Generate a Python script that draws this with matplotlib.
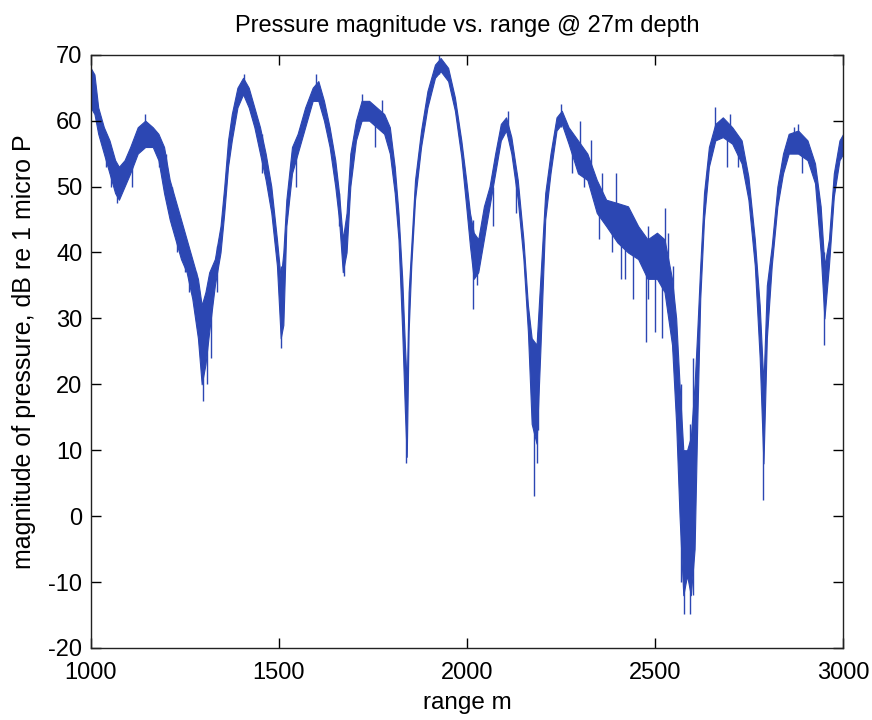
#!/usr/bin/env python3
"""Pressure magnitude vs. range, recreated from a MATLAB figure"""

import matplotlib
matplotlib.use("Agg")
import matplotlib.pyplot as plt

plt.rcParams['font.family'] = ['Liberation Sans', 'DejaVu Sans']
plt.rcParams['axes.unicode_minus'] = False

# Envelope of the noisy trace: range (m), low / high level (dB)
range_m = [1000, 1010, 1020, 1035, 1050, 1065, 1075, 1090, 1105, 1125, 1145, 1165,
           1180, 1195, 1210, 1225, 1240, 1255, 1270, 1285, 1295, 1305, 1315, 1330,
           1345, 1355, 1365, 1375, 1390, 1405, 1420, 1435, 1450, 1465, 1480, 1495,
           1505, 1512, 1520, 1535, 1550, 1570, 1590, 1605, 1620, 1635, 1650, 1660,
           1670, 1680, 1690, 1705, 1720, 1740, 1760, 1780, 1795, 1808, 1818, 1828,
           1835, 1840, 1845, 1852, 1862, 1878, 1895, 1915, 1930, 1950, 1968, 1985,
           1998, 2008, 2018, 2030, 2045, 2060, 2075, 2090, 2104, 2118, 2135, 2150,
           2162, 2172, 2185, 2195, 2208, 2222, 2238, 2252, 2270, 2295, 2320, 2345,
           2370, 2400, 2428, 2455, 2480, 2505, 2525, 2545, 2556, 2565, 2575, 2585,
           2595, 2605, 2612, 2620, 2630, 2643, 2660, 2680, 2705, 2730, 2748, 2765,
           2778, 2788, 2797, 2810, 2825, 2840, 2855, 2880, 2905, 2925, 2940, 2950,
           2962, 2975, 2990, 3000]
level_lo = [62, 61, 58, 55, 52, 49, 48, 50, 52, 55, 56, 56,
            54, 49, 45, 42, 39, 37, 33, 27, 20, 23, 28, 35,
            40, 46, 53, 57, 62, 64, 62, 59, 55, 51, 46, 38,
            27, 29, 44, 52, 55, 59, 63, 63, 60, 56, 50, 45,
            37, 40, 50, 57, 60, 60, 59, 58, 55, 49, 42, 28,
            16, 9, 28, 38, 48, 56, 62, 66.5, 67.5, 66, 61.5, 54.5,
            47, 41, 36, 37, 42, 47, 52, 57, 58.5, 55, 48, 39,
            28, 14, 11, 25, 45, 52, 58.5, 59.5, 56.5, 52, 51, 46,
            44, 41.5, 40, 39, 36, 36, 34, 26, 14, 0, -12, -9,
            -12, -5, 14, 33, 45, 53, 57, 57.5, 56.5, 53.5, 48, 38,
            24, 8, 27, 38, 47, 52, 55, 55, 54, 50.5, 40, 30,
            38, 48.5, 54, 55]
level_hi = [68, 67, 62, 59, 57, 54, 53, 54, 56, 59, 60, 59,
            58, 56, 51, 48, 45, 42, 39, 36, 32, 34, 37, 39,
            44, 50, 57, 61, 65, 66.5, 65, 62, 59, 55, 50, 42,
            36, 40, 48, 56, 58, 62, 65, 66, 63, 59, 54, 49,
            42, 46, 55, 60, 63, 63, 62, 61, 59, 53, 46, 36,
            26, 20, 34, 41, 51, 58.5, 64.5, 68.5, 69.5, 68, 63.5, 57,
            51, 46, 43, 42, 47, 50, 55, 59.5, 60.5, 57.5, 51, 42,
            32, 27, 26, 36, 49, 55, 60.5, 61.5, 59, 57, 55, 51,
            48, 47.5, 47, 44, 42, 43, 42, 36, 30, 20, 10, 10,
            12, 20, 28, 38, 49, 56, 59.5, 60.5, 59, 57, 51.5, 42,
            32, 20, 35, 41, 50, 55, 58, 58.5, 57, 53.5, 47, 38,
            42, 52, 57, 58]

# Single-sample spikes that stick out of the band: range, bottom, top
spike_x = [1040, 1055, 1070, 1110, 1145, 1182, 1200, 1215, 1230, 1250, 1262, 1280,
           1298, 1308, 1320, 1335, 1408, 1455, 1505, 1545, 1600, 1660, 1672, 1720,
           1755, 1773, 1838, 1925, 2016, 2028, 2070, 2110, 2130, 2179, 2185, 2190,
           2250, 2280, 2300, 2310, 2330, 2350, 2360, 2385, 2395, 2410, 2420, 2440,
           2476, 2480, 2500, 2519, 2527, 2535, 2548, 2568, 2576, 2593, 2600, 2660,
           2690, 2700, 2720, 2787, 2870, 2880, 2890, 2950]
spike_lo = [53, 50, 47.5, 50, 57, 53, 50, 44, 40, 37, 34, 31,
            17.5, 20, 24, 34, 64, 52, 25.5, 50, 63, 44, 36.5, 60,
            56, 60, 8, 67, 31.5, 35, 44, 58, 46, 3, 8, 13,
            59, 52, 55, 50, 52, 42, 46, 40, 45, 36, 36, 33,
            26.4, 33, 28, 27, 40, 31, 25, -10, -14.9, -14.9, -12, 58,
            53, 58, 53, 2.5, 56, 56, 52, 26]
spike_hi = [58, 55, 52, 54, 61, 57, 55, 50, 46, 42, 40, 37,
            30, 33, 37, 41, 67, 58, 38, 56, 67, 49, 42, 64,
            61, 63.2, 22, 70, 45, 42, 50, 61.5, 52, 20, 24, 28,
            62.5, 57, 60, 55, 57, 48, 52, 47, 52, 45, 45, 44,
            40, 44, 42, 40, 46.7, 43, 38, 20, 10, 14, 24, 62,
            58, 61, 57, 22, 59, 59.5, 56, 40]

line_color = '#2c47b3'

fig = plt.figure(figsize=(8.72, 7.2), dpi=100)
ax = fig.add_axes([0.104, 0.100, 0.863, 0.824])

ax.fill_between(range_m, level_lo, level_hi, color=line_color, linewidth=0.8)
ax.vlines(spike_x, spike_lo, spike_hi, color=line_color, linewidth=1.0)

ax.set_xlim(1000, 3000)
ax.set_ylim(-20, 70)
ax.set_xticks([1000, 1500, 2000, 2500, 3000])
ax.set_yticks(range(-20, 71, 10))
ax.tick_params(direction='in', top=True, right=True, length=7, width=1,
               labelsize=17)
ax.tick_params(axis='x', pad=10)
ax.tick_params(axis='y', pad=6)
for s in ax.spines.values():
    s.set_linewidth(1.0)
    s.set_color('#222222')

ax.set_title("Pressure magnitude vs. range @ 27m depth", fontsize=17, pad=16)
ax.set_xlabel("range m", fontsize=17.5, labelpad=6)
ax.set_ylabel("magnitude of pressure, dB re 1 micro P", fontsize=18, labelpad=9)

fig.savefig("out.png", dpi=100)
